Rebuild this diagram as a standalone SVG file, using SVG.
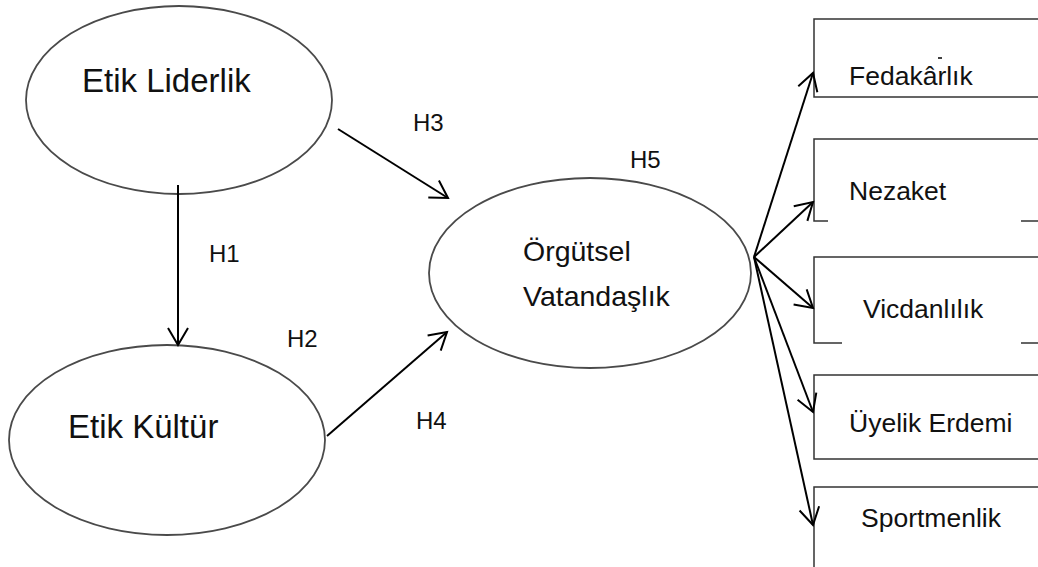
<svg xmlns="http://www.w3.org/2000/svg" width="1038" height="567" viewBox="0 0 1038 567">
  <style>
    .oval { fill: #ffffff; stroke: #4a4a4a; stroke-width: 1.8; }
    .box { fill: none; stroke: #333333; stroke-width: 1.5; }
    .edge { fill: none; stroke: #000000; stroke-width: 2; marker-end: url(#vhead); }
    text { font-family: "Liberation Sans", Arial, sans-serif; fill: #111111; }
    .big { font-size: 33px; }
    .mid { font-size: 28.5px; }
    .item { font-size: 26.5px; }
    .lbl { font-size: 24px; }
  </style>
  <defs>
    <marker id="vhead" markerUnits="userSpaceOnUse" markerWidth="24" markerHeight="24" viewBox="-20 -12 24 24" refX="0" refY="0" orient="auto">
      <path d="M -17 -10 L 0 0 L -17 10" fill="none" stroke="#000000" stroke-width="2"/>
    </marker>
  </defs>
  <rect width="1038" height="567" fill="#ffffff"/>

  <!-- latent constructs -->
  <g id="etik-liderlik">
    <ellipse class="oval" cx="179" cy="100" rx="153" ry="94"/>
    <text class="big" x="82" y="92">Etik Liderlik</text>
  </g>
  <g id="etik-kultur">
    <ellipse class="oval" cx="167" cy="440" rx="158" ry="95"/>
    <text class="big" x="68" y="438">Etik Kültür</text>
  </g>
  <g id="orgutsel-vatandaslik">
    <ellipse class="oval" cx="590" cy="273" rx="161" ry="95"/>
    <text class="mid" x="523" y="261">Örgütsel</text>
    <text class="mid" x="523" y="306">Vatandaşlık</text>
  </g>

  <!-- dimension boxes (open to the right) -->
  <g id="fedakarlik">
    <path class="box" d="M 1040 19 H 814 V 97 H 1040"/>
    <line x1="938" y1="58" x2="942" y2="58" stroke="#000" stroke-width="1.5"/>
    <text class="item" x="849" y="85">Fedakârlık</text>
  </g>
  <g id="nezaket">
    <path class="box" d="M 1040 139 H 814 V 221 H 828 M 1021 221 H 1040"/>
    <text class="item" x="849" y="200">Nezaket</text>
  </g>
  <g id="vicdanlilik">
    <path class="box" d="M 1040 257 H 814 V 343 H 842 M 1021 343 H 1040"/>
    <text class="item" x="863" y="318">Vicdanlılık</text>
  </g>
  <g id="uyelik-erdemi">
    <path class="box" d="M 1040 375 H 814 V 459 H 1040"/>
    <text class="item" x="849" y="432">Üyelik Erdemi</text>
  </g>
  <g id="sportmenlik">
    <path class="box" d="M 1040 487 H 814 V 570"/>
    <text class="item" x="861" y="527">Sportmenlik</text>
  </g>

  <!-- paths -->
  <g id="connectors">
    <line class="edge" x1="178" y1="185" x2="178" y2="345"/>
    <line class="edge" x1="338" y1="129" x2="448" y2="198"/>
    <line class="edge" x1="327" y1="436" x2="447" y2="332"/>
    <line class="edge" x1="754" y1="257" x2="813" y2="73"/>
    <line class="edge" x1="754" y1="257" x2="813" y2="202"/>
    <line class="edge" x1="754" y1="257" x2="813" y2="308"/>
    <line class="edge" x1="754" y1="257" x2="813" y2="412"/>
    <line class="edge" x1="754" y1="257" x2="813" y2="525"/>
  </g>

  <!-- hypothesis labels -->
  <g id="labels">
    <text class="lbl" x="413" y="131">H3</text>
    <text class="lbl" x="630" y="168">H5</text>
    <text class="lbl" x="209" y="262">H1</text>
    <text class="lbl" x="287" y="347">H2</text>
    <text class="lbl" x="416" y="429">H4</text>
  </g>
</svg>
